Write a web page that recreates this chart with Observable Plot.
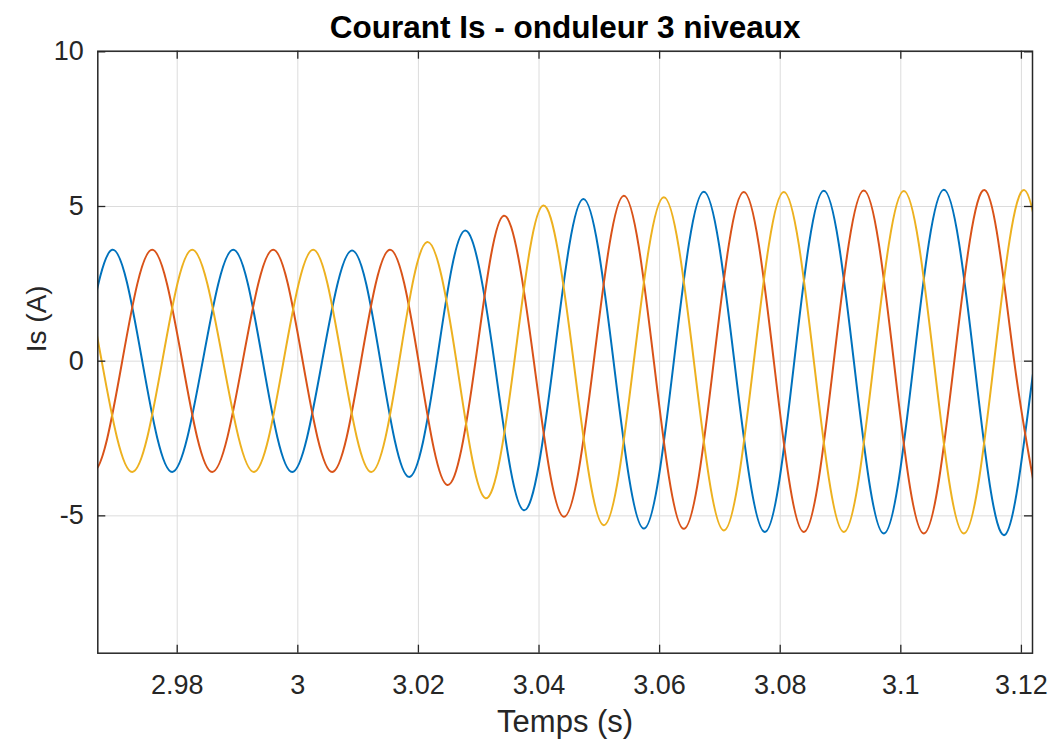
<!DOCTYPE html>
<html>
<head>
<meta charset="utf-8">
<script src="https://cdn.jsdelivr.net/npm/d3@7"></script>
<script src="https://cdn.jsdelivr.net/npm/@observablehq/plot@0.6"></script>
<style>
  body { margin: 0; background: #fff; }
  svg { display: block; }
</style>
</head>
<body>
<div id="chart"></div>
<script>
// ---- text ----
const title = "Courant Is - onduleur 3 niveaux";
const xLabel = "Temps (s)";
const yLabel = "Is (A)";

// ---- axes ----
const xTicks = [2.98, 3.00, 3.02, 3.04, 3.06, 3.08, 3.10, 3.12];
const yTicks = [-5, 0, 5, 10];
const xDomain = [2.96683, 3.12184];
const yDomain = [-9.44, 10.02];

// ---- phase a (blue): times (s) and currents (A) read at troughs, zero crossings and peaks ----
const tA = [2.95927, 2.96425, 2.96922, 2.97420, 2.97917, 2.98423, 2.98929, 2.99418, 2.99907, 3.00403,
            3.00899, 3.01370, 3.01841, 3.02305, 3.02769, 3.03259, 3.03748, 3.04241, 3.04733, 3.05236,
            3.05738, 3.06236, 3.06733, 3.07239, 3.07745, 3.08234, 3.08723, 3.09221, 3.09718, 3.10216,
            3.10713, 3.11217, 3.11720, 3.12220, 3.12720];
const iA = [-3.58, 0, 3.60, 0, -3.58, 0, 3.60, 0, -3.58, 0,
            3.58, 0, -3.74, 0, 4.22, 0, -4.82, 0, 5.24, 0,
            -5.41, 0, 5.48, 0, -5.52, 0, 5.51, 0, -5.57, 0,
            5.54, 0, -5.62, 0, 5.56];

// ---- phase b (orange) ----
const tB = [2.95590, 2.96090, 2.96590, 2.97088, 2.97585, 2.98083, 2.98580, 2.99086, 2.99592, 3.00081,
            3.00570, 3.01048, 3.01526, 3.02002, 3.02478, 3.02947, 3.03416, 3.03914, 3.04411, 3.04909,
            3.05406, 3.05904, 3.06401, 3.06899, 3.07396, 3.07894, 3.08391, 3.08889, 3.09386, 3.09884,
            3.10381, 3.10887, 3.11393, 3.11880, 3.12367];
const iB = [3.60, 0, -3.58, 0, 3.60, 0, -3.58, 0, 3.60, 0,
            -3.58, 0, 3.60, 0, -4.00, 0, 4.70, 0, -5.03, 0,
            5.35, 0, -5.42, 0, 5.47, 0, -5.52, 0, 5.52, 0,
            -5.57, 0, 5.53, 0, -5.62];

// ---- phase c (yellow) ----
const tC = [2.95247, 2.95745, 2.96242, 2.96748, 2.97254, 2.97752, 2.98249, 2.98760, 2.99270, 2.99763,
            3.00255, 3.00736, 3.01217, 3.01682, 3.02146, 3.02630, 3.03113, 3.03592, 3.04070, 3.04573,
            3.05075, 3.05573, 3.06070, 3.06568, 3.07065, 3.07563, 3.08060, 3.08558, 3.09055, 3.09553,
            3.10050, 3.10548, 3.11045, 3.11548, 3.12051, 3.12549, 3.13046];
const iC = [-3.58, 0, 3.60, 0, -3.58, 0, 3.60, 0, -3.58, 0,
            3.60, 0, -3.58, 0, 3.85, 0, -4.43, 0, 5.03, 0,
            -5.30, 0, 5.30, 0, -5.47, 0, 5.47, 0, -5.52, 0,
            5.50, 0, -5.57, 0, 5.53, 0, -5.60];

const seriesNames = ["Isa", "Isb", "Isc"];
const seriesColors = ["#0072BD", "#D95319", "#EDB120"];

// ---- build table ----
const toRows = (ts, is) => ts.map((t, k) => ({t, i: is[k]}));
const series = [toRows(tA, iA), toRows(tB, iB), toRows(tC, iC)];

// ---- layout ----
const W = 1053, H = 749;
const mL = 97.3, mR = W - 1032, mT = 50.7, mB = H - 652.7;
const fw = W - mL - mR, fh = H - mT - mB;
const ink = "#262626";
const font = "'Liberation Sans', Arial, Helvetica, sans-serif";

const chart = Plot.plot({
  width: W,
  height: H,
  marginLeft: mL,
  marginRight: mR,
  marginTop: mT,
  marginBottom: mB,
  style: {fontFamily: font, background: "#fff", color: ink},
  x: {domain: xDomain},
  y: {domain: yDomain},
  marks: [
    Plot.gridX(xTicks, {stroke: "#dcdcdc", strokeOpacity: 1, strokeWidth: 1}),
    Plot.gridY(yTicks, {stroke: "#dcdcdc", strokeOpacity: 1, strokeWidth: 1}),
    ...series.map((rows, k) => Plot.line(rows, {
      x: "t", y: "i", curve: "natural", stroke: seriesColors[k], strokeWidth: 2, clip: true
    })),
    Plot.frame({stroke: ink, strokeWidth: 1.5}),
    // inward ticks (bottom, top, left, right)
    Plot.tickX(xTicks, {x: d => d, insetTop: fh - 8, stroke: ink, strokeWidth: 1.3}),
    Plot.tickX(xTicks, {x: d => d, insetBottom: fh - 8, stroke: ink, strokeWidth: 1.3}),
    Plot.tickY(yTicks, {y: d => d, insetRight: fw - 8, stroke: ink, strokeWidth: 1.3}),
    Plot.tickY(yTicks, {y: d => d, insetLeft: fw - 8, stroke: ink, strokeWidth: 1.3}),
    Plot.axisX(xTicks, {anchor: "bottom", tickSize: 0, tickPadding: 22, fontSize: 27, fill: ink,
      tickFormat: d => String(+d.toFixed(2)), label: null}),
    Plot.axisY(yTicks, {anchor: "left", tickSize: 0, tickPadding: 14, fontSize: 27, fill: ink,
      tickFormat: d => String(d), label: null}),
    Plot.text([xLabel], {frameAnchor: "bottom", lineAnchor: "middle", dy: 69, fontSize: 31, fill: ink}),
    Plot.text([yLabel], {frameAnchor: "left", dx: -61, rotate: -90, fontSize: 28, fill: ink}),
    Plot.text([title], {frameAnchor: "top", lineAnchor: "middle", dy: -23, fontSize: 31.5,
      fontWeight: "bold", fill: "#000"})
  ]
});
document.getElementById("chart").append(chart);
</script>
</body>
</html>
